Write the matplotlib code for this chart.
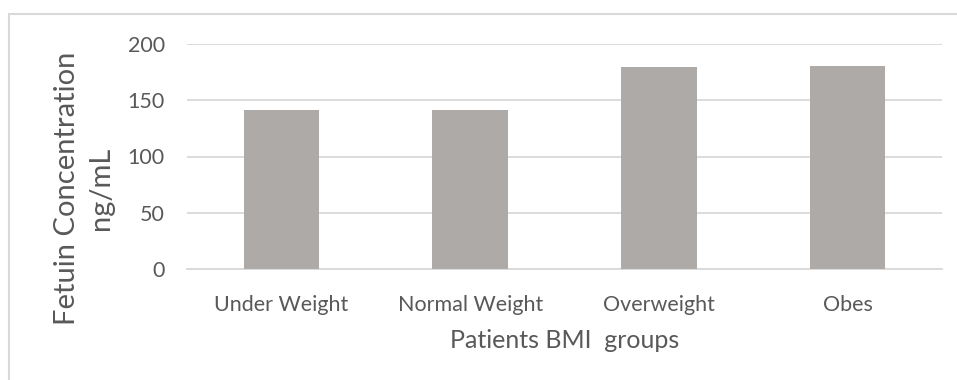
import numpy as np
import matplotlib.pyplot as plt
from matplotlib.patches import Rectangle

# BMI groups and mean fetuin level (ng/mL)
groups = ['Under Weight', 'Normal Weight', 'Overweight', 'Obes']
fetuin = [141, 141, 179.5, 180.5]
yticks = [0, 50, 100, 150, 200]

text_col = '#595959'
grid_col = '#D9D9D9'
bar_col = '#AEAAA8'

plt.rcParams['font.family'] = ['Lato', 'DejaVu Sans']

fig = plt.figure(figsize=(9.57, 3.8), dpi=100)
ax = fig.add_axes([187/957, 1 - 269/380, (942 - 187)/957, (269 - 44)/380])

x = np.arange(len(groups))
ax.bar(x, fetuin, width=0.40, color=bar_col, zorder=3)

ax.set_xlim(-0.5, len(groups) - 0.5)
ax.set_ylim(0, 200)
ax.set_yticks(yticks)
ax.set_xticks(x)
ax.set_xticklabels(groups)
ax.tick_params(axis='both', length=0, colors=text_col, labelsize=15.5)
ax.tick_params(axis='y', pad=16)
ax.tick_params(axis='x', pad=19)
ax.grid(axis='y', color=grid_col, linewidth=1.3, zorder=0)

for s in ['top', 'right', 'left']:
    ax.spines[s].set_visible(False)
ax.spines['bottom'].set_color(grid_col)
ax.spines['bottom'].set_linewidth(1.3)

ax.set_xlabel('Patients BMI  groups', fontsize=18, color=text_col, labelpad=10)
fig.text(84/957, 1 - 188/380, 'Fetuin Concentration\nng/mL', rotation=90,
         ha='center', va='center', fontsize=21, color=text_col,
         linespacing=1.35, multialignment='center')

# chart frame (only top and left edges fall inside the image)
fig.patches.append(Rectangle((9/957, -0.1), 1.1, 1.1 - 14/380,
                             transform=fig.transFigure, fill=False,
                             edgecolor=grid_col, linewidth=1.5))

fig.savefig('out.png', dpi=100)
